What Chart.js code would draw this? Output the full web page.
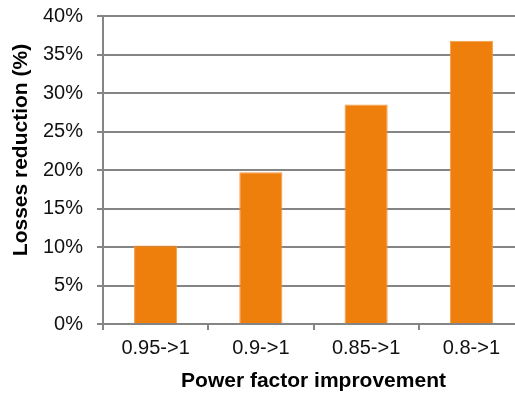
<!DOCTYPE html>
<html>
<head>
<meta charset="utf-8">
<script src="https://cdn.jsdelivr.net/npm/chart.js@4/dist/chart.umd.min.js"></script>
<style>
  html, body { margin: 0; padding: 0; background: #fff; overflow: hidden; }
  #wrap { width: 530px; height: 396px; }
</style>
</head>
<body>
<div id="wrap"><canvas id="chart" width="530" height="396"></canvas></div>
<script>
// Power factor improvement steps and the resulting losses reduction (%)
const categories = ['0.95->1', '0.9->1', '0.85->1', '0.8->1'];
const lossesReduction = [10.2, 19.7, 28.5, 36.8];
const yTicks = [0, 5, 10, 15, 20, 25, 30, 35, 40];

const FONT = "'Liberation Sans', Arial, Helvetica, sans-serif";
const GRID = '#858585';

// Rotated y-axis caption, placed a little above the axis midpoint
const yCaption = {
  id: 'yCaption',
  afterDraw(chart) {
    const ctx = chart.ctx;
    ctx.save();
    ctx.translate(21, 150);
    ctx.rotate(-Math.PI / 2);
    ctx.font = 'bold 21px ' + FONT;
    ctx.fillStyle = '#000';
    ctx.textAlign = 'center';
    ctx.textBaseline = 'middle';
    ctx.fillText('Losses reduction (%)', 0, 0);
    ctx.restore();
  }
};

new Chart(document.getElementById('chart'), {
  type: 'bar',
  data: {
    labels: categories,
    datasets: [{
      data: lossesReduction,
      backgroundColor: '#EF7F0D',
      borderColor: '#F39A45',
      borderWidth: 1,
      barPercentage: 0.41,
      categoryPercentage: 1.0
    }]
  },
  options: {
    responsive: false,
    animation: false,
    layout: { padding: { top: 16, right: 6, bottom: 0, left: 0 } },
    plugins: { legend: { display: false }, tooltip: { enabled: false } },
    scales: {
      x: {
        afterFit(scale) {
          scale.height = 72;
          scale.paddingLeft = 0;
          scale.paddingRight = 0;
        },
        grid: {
          drawOnChartArea: false,
          drawTicks: true,
          tickLength: 6,
          offset: true,
          color: GRID,
          lineWidth: 2
        },
        border: { display: true, color: GRID, width: 2 },
        ticks: {
          color: '#111',
          padding: 6,
          font: { family: FONT, size: 20 }
        },
        title: {
          display: true,
          text: 'Power factor improvement',
          color: '#000',
          font: { family: FONT, size: 21, weight: 'bold' },
          padding: { top: 0, bottom: 2 }
        }
      },
      y: {
        min: 0,
        max: 40,
        afterFit(scale) {
          scale.width = 103;
          scale.paddingTop = 0;
          scale.paddingBottom = 0;
        },
        afterBuildTicks(scale) { scale.ticks = yTicks.map(v => ({ value: v })); },
        grid: {
          color: GRID,
          lineWidth: 2,
          drawTicks: true,
          tickLength: 6
        },
        border: { display: true, color: GRID, width: 2 },
        ticks: {
          color: '#111',
          padding: 14,
          font: { family: FONT, size: 20 },
          callback: v => v + '%'
        }
      }
    }
  },
  plugins: [yCaption]
});
</script>
</body>
</html>
